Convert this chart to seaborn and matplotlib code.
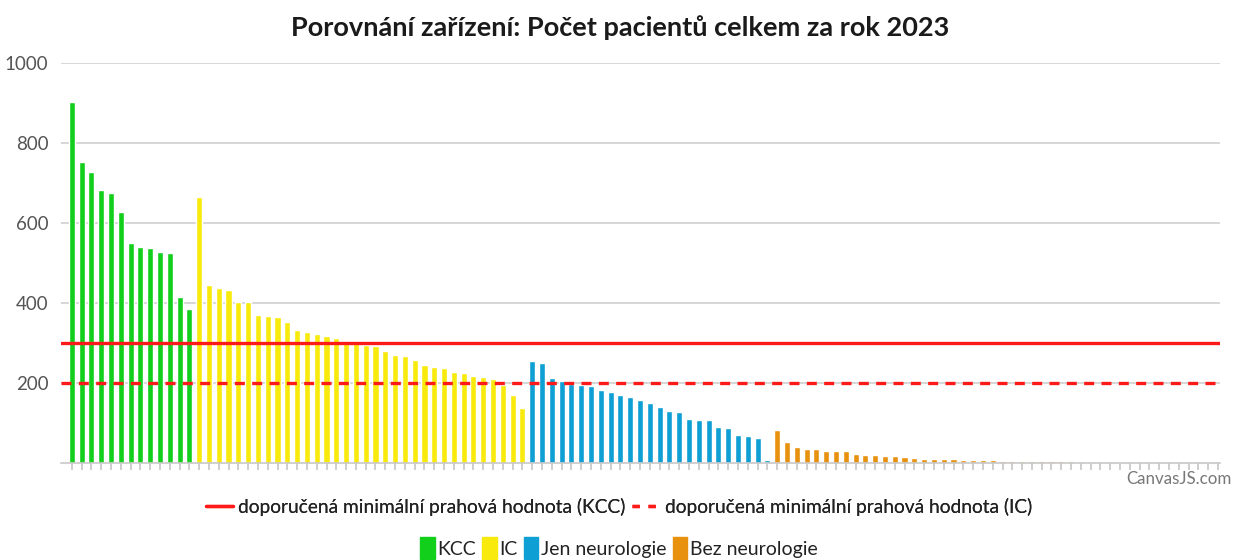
import numpy as np
import pandas as pd
import matplotlib
matplotlib.use("Agg")
import matplotlib.pyplot as plt
import seaborn as sns
from matplotlib.lines import Line2D
from matplotlib.patches import Patch

# values
kcc = [903, 753, 728, 682, 674, 628, 551, 541, 538, 528, 526, 414, 385]
ic = [666, 445, 438, 432, 403, 402, 371, 367, 364, 353, 332, 328, 323, 317,
      312, 305, 300, 296, 293, 280, 270, 268, 257, 245, 239, 237, 228, 224,
      217, 214, 211, 195, 170, 137]
jen_neuro = [254, 250, 212, 204, 197, 196, 192, 183, 177, 171, 165, 157, 150,
             139, 129, 128, 110, 107, 107, 90, 88, 69, 67, 63, 7]
bez_neuro = [83, 52, 40, 35, 35, 29, 29, 29, 22, 19, 19, 17, 17, 15, 13, 11,
             11, 11, 10, 8, 8, 7, 7, 6, 6, 6, 5, 5, 5, 4, 4, 3, 3, 2, 2, 2,
             1, 1, 0, 0, 0, 0, 0, 0, 0, 0]
groups = ["KCC", "IC", "Jen neurologie", "Bez neurologie"]
colors = ["#12CF1C", "#F7EA0C", "#0E9FD4", "#E8910F"]
limit_kcc = 300
limit_ic = 200

vals = kcc + ic + jen_neuro + bez_neuro
grp = (["KCC"] * len(kcc) + ["IC"] * len(ic) + ["Jen neurologie"] * len(jen_neuro)
       + ["Bez neurologie"] * len(bez_neuro))
df = pd.DataFrame({"idx": [str(i) for i in range(len(vals))], "pacienti": vals, "typ": grp})

sns.set_theme(style="white")
plt.rcParams["font.family"] = ["Lato", "DejaVu Sans"]

fig = plt.figure(figsize=(12.34, 5.6), dpi=100)
ax = fig.add_axes([61 / 1234, 97 / 560, (1220 - 61) / 1234, 400 / 560])

sns.barplot(data=df, x="idx", y="pacienti", hue="typ", hue_order=groups,
            palette=colors, dodge=False, width=0.62, saturation=1, legend=False, ax=ax)

ax.axhline(limit_kcc, color="#FF1A1A", lw=2.4, zorder=5)
ax.axhline(limit_ic, color="#FF1A1A", lw=2.4, ls=(0, (3, 2.2)), zorder=5)

ax.set_xlim(-1.1, len(vals) - 0.8)
ax.set_ylim(0, 1000)
ax.set_yticks([200, 400, 600, 800, 1000])
ax.set_yticklabels(["200", "400", "600", "800", "1000"])
ax.yaxis.grid(True, color="#cfcfcf", lw=1.2)
ax.set_axisbelow(True)
ax.set_xlabel("")
ax.set_ylabel("")
ax.tick_params(axis="y", length=6, color="#cfcfcf", labelsize=13.5, labelcolor="#555555", pad=3)
ax.tick_params(axis="x", length=5, color="#c8c8c8", labelbottom=False, bottom=True)
for s in ["top", "right", "left"]:
    ax.spines[s].set_visible(False)
ax.spines["bottom"].set_color("#c8c8c8")
ax.spines["bottom"].set_linewidth(1.2)

fig.text(620 / 1234, 1 - 28 / 560, "Porovnání zařízení: Počet pacientů celkem za rok 2023",
         ha="center", va="center", fontsize=19.5, fontweight="bold", color="#1a1a1a")

fig.text(1232 / 1234, 1 - 479 / 560, "CanvasJS.com", ha="right", va="center",
         fontsize=12.2, color="#777777")

line_handles = [Line2D([], [], color="#FF1A1A", lw=2.4),
                Line2D([], [], color="#FF1A1A", lw=2.4, ls=(0, (2.2, 2.6)))]
leg1 = fig.legend(line_handles,
                  ["doporučená minimální prahová hodnota (KCC)",
                   "doporučená minimální prahová hodnota (IC)"],
                  loc="center", bbox_to_anchor=(619 / 1234, 1 - 507 / 560), ncol=2,
                  frameon=False, fontsize=13.8, handlelength=1.4, handletextpad=0.3,
                  columnspacing=0.35, labelcolor="#222222")
fig.add_artist(leg1)

patch_handles = [Patch(color=c) for c in colors]
fig.legend(patch_handles, groups, loc="center", bbox_to_anchor=(619 / 1234, 1 - 548 / 560),
           ncol=4, frameon=False, fontsize=14, handlelength=0.75, handleheight=1.3,
           handletextpad=0.15, columnspacing=0.3, labelcolor="#222222")

fig.savefig("out.png", dpi=100)
